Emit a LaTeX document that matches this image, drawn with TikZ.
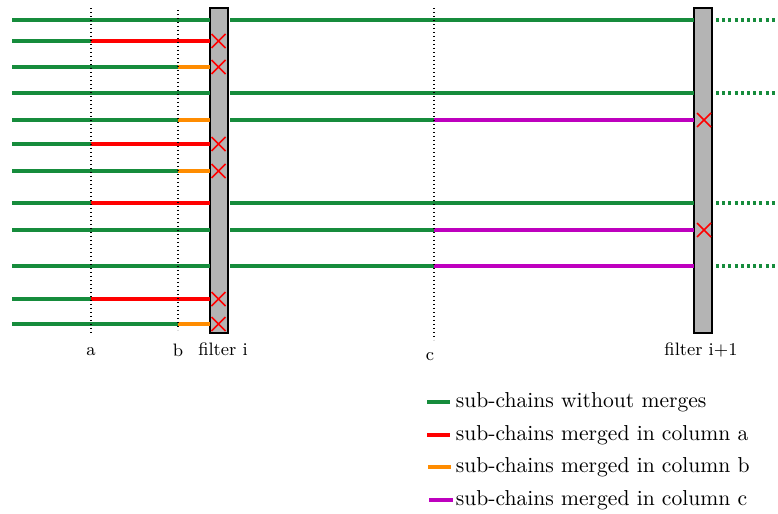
\documentclass[tikz,border=0pt]{standalone}
\usepackage{tikz}
\usetikzlibrary{positioning}

\definecolor{chaingreen}{RGB}{22,140,60}
\definecolor{chainred}{RGB}{255,0,0}
\definecolor{chainorange}{RGB}{255,140,0}
\definecolor{chainpurple}{RGB}{190,0,190}
\definecolor{filtergray}{RGB}{180,180,180}

\tikzset{
  chain/.style={line width=1.6pt},
  nextchain/.style={chain, color=chaingreen, dash pattern=on 1.5pt off 1.6pt},
  colline/.style={line width=0.6pt, dash pattern=on 0.6pt off 1.4pt},
  filterbox/.style={draw=black, line width=0.8pt, fill=filtergray, minimum width=9pt, minimum height=162.5pt, inner sep=0pt},
  cross/.style={color=chainred, line width=0.8pt},
  lbl/.style={font=\fontsize{9}{10}\selectfont, inner sep=0.75pt},
  legtext/.style={font=\fontsize{10.8}{13}\selectfont, anchor=west, inner sep=0.75pt}
}

\begin{document}
\begin{tikzpicture}[x=0.5pt,y=-0.5pt]
\useasboundingbox (0,0) rectangle (778,514);

% filters
\node[filterbox] (filteri) at (219,170.5) {};
\node[filterbox] (filterii) at (703,170.5) {};

% sub-chains before filter i: row / colour of the merged part / column where it starts / crossed out
\foreach \y/\c/\s/\x in {20/chaingreen/210/0, 41/chainred/91/1, 67/chainorange/178/1,
    93/chaingreen/210/0, 120/chainorange/178/0, 144/chainred/91/1, 171/chainorange/178/1,
    203/chainred/91/0, 230/chaingreen/210/0, 266/chaingreen/210/0, 299/chainred/91/1,
    324/chainorange/178/1} {
  \draw[chain, chaingreen] (12,\y) -- (\s,\y);
  \draw[chain, \c] (\s,\y) -- (210,\y);
  \ifnum\x=1
    \draw[cross] (211.5,\y-7) -- (225.5,\y+7) (211.5,\y+7) -- (225.5,\y-7);
  \fi
}

% sub-chains between filter i and filter i+1
\foreach \y/\c/\s/\x in {20/chaingreen/694/0, 93/chaingreen/694/0, 120/chainpurple/434/1,
    203/chaingreen/694/0, 230/chainpurple/434/1, 266/chainpurple/434/0} {
  \draw[chain, chaingreen] (230,\y) -- (\s,\y);
  \draw[chain, \c] (\s,\y) -- (694,\y);
  \ifnum\x=1
    \draw[cross] (697,\y-7) -- (711,\y+7) (697,\y+7) -- (711,\y-7);
  \else
    \draw[nextchain] (716,\y) -- (778,\y);
  \fi
}

% columns
\draw[colline] (91,8) -- (91,333) node[lbl, below=6pt] (cola) {a};
\draw[colline] (178,10) -- (178,330) node[lbl, below=6pt] (colb) {b};
\draw[colline] (434,8) -- (434,340) node[lbl, below=5pt, xshift=-2pt] (colc) {c};

% filter labels
\node[lbl, below=3.5pt of filteri, xshift=2pt] (lbli) {filter i};
\node[lbl, below=3.5pt of filterii, xshift=-1pt] (lblii) {filter i+1};

% legend
\draw[chain, chaingreen] (427,402) -- (450,402);
\node[legtext] (leg1) at (454,402) {sub-chains without merges};
\draw[chain, chainred] (427,435) -- (450,435);
\node[legtext] (leg2) at (454,435) {sub-chains merged in column a};
\draw[chain, chainorange] (428,467) -- (451,467);
\node[legtext] (leg3) at (454,467) {sub-chains merged in column b};
\draw[chain, chainpurple] (429,500) -- (453,500);
\node[legtext] (leg4) at (454,500) {sub-chains merged in column c};

\end{tikzpicture}
\end{document}
